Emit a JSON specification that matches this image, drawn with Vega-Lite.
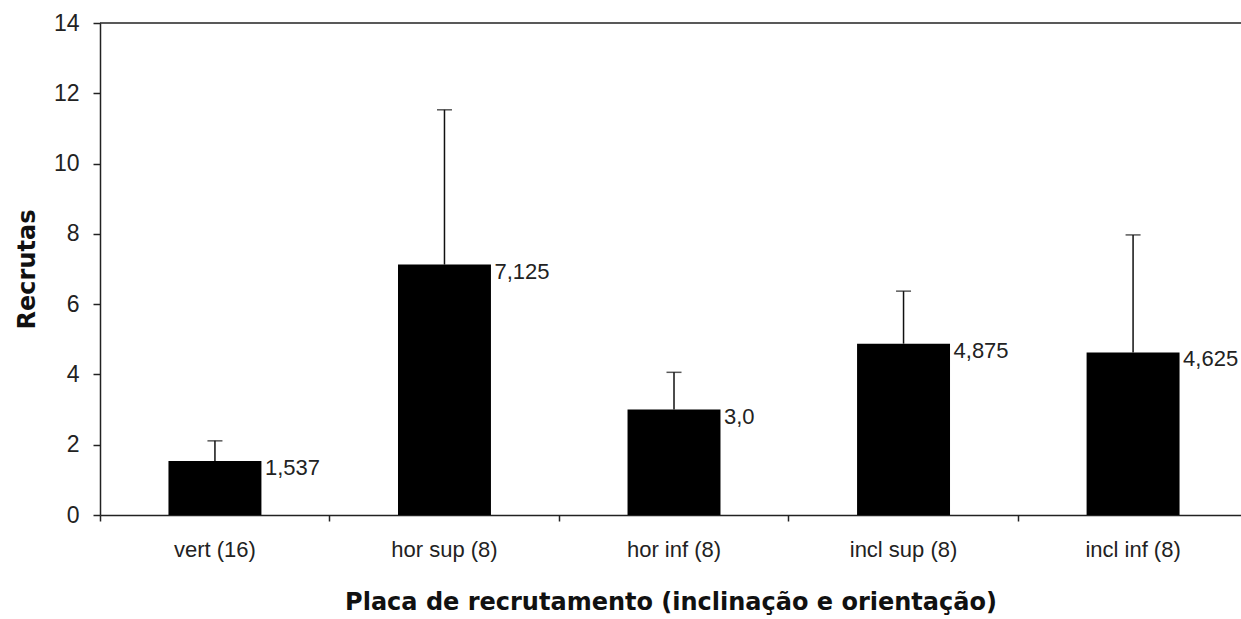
{
  "$schema": "https://vega.github.io/schema/vega-lite/v6.json",
  "width": 1141,
  "height": 492,
  "autosize": "none",
  "padding": {"left": 100, "top": 23, "right": 0, "bottom": 104},
  "background": "white",
  "config": {"view": {"stroke": null}, "font": "Liberation Sans"},
  "data": {
    "values": [
      {"placa": "vert (16)", "media": 1.537, "sup": 2.11, "rotulo": "1,537"},
      {"placa": "hor sup (8)", "media": 7.125, "sup": 11.53, "rotulo": "7,125"},
      {"placa": "hor inf (8)", "media": 3.0, "sup": 4.06, "rotulo": "3,0"},
      {"placa": "incl sup (8)", "media": 4.875, "sup": 6.37, "rotulo": "4,875"},
      {"placa": "incl inf (8)", "media": 4.625, "sup": 7.97, "rotulo": "4,625"}
    ]
  },
  "encoding": {
    "x": {
      "field": "placa",
      "type": "nominal",
      "sort": null,
      "scale": {"paddingInner": 0.595, "paddingOuter": 0.283, "align": 0.527},
      "axis": {
        "title": "Placa de recrutamento (inclinação e orientação)",
        "labelAngle": 0,
        "bandPosition": -0.734,
        "tickSize": 6,
        "tickWidth": 1.5,
        "tickColor": "#222",
        "domainColor": "#222",
        "domainWidth": 1.5,
        "labelPadding": 18,
        "labelFontSize": 22,
        "labelColor": "#222",
        "labelFont": "Liberation Sans",
        "titleFont": "DejaVu Sans",
        "titleFontSize": 24,
        "titleFontWeight": "bold",
        "titleColor": "#111",
        "titlePadding": 30
      }
    }
  },
  "layer": [
    {
      "mark": {"type": "bar", "color": "#000"},
      "encoding": {
        "y": {
          "field": "media",
          "type": "quantitative",
          "scale": {"domain": [0, 14], "nice": false},
          "axis": {
            "title": "Recrutas",
            "values": [0, 2, 4, 6, 8, 10, 12, 14],
            "grid": false,
            "tickSize": 7,
            "tickWidth": 1.5,
            "tickColor": "#222",
            "domainColor": "#222",
            "domainWidth": 1.5,
            "labelPadding": 14,
            "labelFontSize": 23,
            "labelColor": "#222",
            "labelFont": "Liberation Sans",
            "titleFont": "DejaVu Sans",
            "titleFontSize": 24,
            "titleFontWeight": "bold",
            "titleColor": "#111",
            "titlePadding": 14
          }
        }
      }
    },
    {
      "mark": {"type": "rule", "color": "#111", "strokeWidth": 1.5},
      "encoding": {
        "y": {"field": "media", "type": "quantitative", "axis": {"title": "Recrutas"}},
        "y2": {"field": "sup"}
      }
    },
    {
      "mark": {"type": "tick", "orient": "horizontal", "size": 15, "thickness": 1.5, "color": "#111"},
      "encoding": {
        "y": {"field": "sup", "type": "quantitative", "axis": {"title": "Recrutas"}}
      }
    },
    {
      "mark": {"type": "text", "align": "left", "baseline": "alphabetic", "dx": 50, "dy": 14, "fontSize": 22, "color": "#222", "font": "Liberation Sans"},
      "encoding": {
        "y": {"field": "media", "type": "quantitative", "axis": {"title": "Recrutas"}},
        "text": {"field": "rotulo"}
      }
    },
    {
      "data": {"values": [{}]},
      "mark": {"type": "rule", "color": "#222", "strokeWidth": 1.5},
      "encoding": {"y": {"datum": 14}, "x": null}
    }
  ]
}
